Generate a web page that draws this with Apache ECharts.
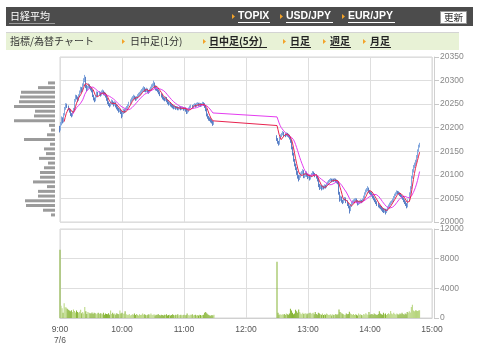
<!DOCTYPE html>
<html><head><meta charset="utf-8">
<script src="https://cdn.jsdelivr.net/npm/echarts@6.0.0/dist/echarts.min.js"></script>
<style>html,body{margin:0;padding:0;background:#fff}#c{width:480px;height:358px}</style>
</head><body><div id="c"></div>
<script>
const amStart = '9:00', pmStart = '12:30';
const amOpen = [
20200,20196,20208,20219,20213,20228,20241,20248,20245,20240,
20236,20229,20226,20233,20240,20258,20266,20264,20259,20268,
20276,20283,20279,20290,20301,20306,20288,20282,20285,20290,
20286,20283,20279,20268,20262,20258,20266,20273,20270,20274,
20270,20275,20277,20273,20272,20268,20261,20254,20250,20247,
20252,20256,20253,20249,20252,20247,20243,20240,20236,20238,
20233,20226,20232,20237,20235,20240,20242,20247,20252,20257,
20260,20263,20266,20264,20261,20263,20267,20270,20272,20275,
20278,20281,20284,20280,20279,20281,20277,20276,20280,20284,
20288,20290,20294,20287,20283,20282,20279,20275,20271,20268,
20264,20262,20260,20263,20258,20254,20251,20252,20249,20247,
20245,20243,20244,20241,20243,20240,20241,20243,20240,20242,
20242,20239,20241,20238,20233,20235,20240,20244,20246,20244,
20247,20249,20246,20250,20251,20248,20250,20247,20249,20252,
20250,20246,20239,20228,20223,20219,20218,20215,20213,20208];
const amClose = [
20196,20208,20220,20212,20228,20241,20248,20245,20240,20236,
20229,20226,20233,20239,20258,20266,20264,20259,20268,20276,
20283,20279,20290,20301,20306,20288,20282,20285,20290,20286,
20283,20279,20268,20262,20258,20266,20273,20270,20274,20270,
20275,20277,20273,20272,20268,20261,20254,20250,20247,20252,
20256,20253,20249,20252,20247,20243,20240,20236,20238,20233,
20226,20232,20237,20235,20240,20242,20247,20252,20257,20260,
20263,20266,20264,20261,20263,20267,20270,20272,20275,20278,
20281,20284,20280,20279,20281,20277,20276,20280,20284,20288,
20290,20294,20287,20283,20282,20279,20275,20271,20268,20264,
20262,20260,20263,20258,20254,20251,20252,20249,20247,20245,
20243,20244,20241,20243,20240,20241,20243,20240,20242,20242,
20239,20241,20238,20233,20235,20240,20244,20246,20244,20247,
20249,20246,20250,20251,20248,20250,20247,20249,20252,20250,
20246,20239,20228,20223,20219,20218,20215,20213,20208,20211];
const amLow = [
20190,20194,20205,20209,20211,20226,20238,20242,20237,20232,
20225,20222,20224,20231,20238,20255,20260,20255,20257,20265,
20273,20275,20277,20288,20297,20284,20278,20279,20283,20282,
20279,20275,20265,20258,20254,20256,20264,20266,20268,20266,
20268,20272,20269,20268,20264,20257,20250,20246,20243,20245,
20249,20249,20245,20247,20243,20239,20236,20232,20233,20229,
20220,20223,20229,20231,20233,20237,20240,20245,20250,20254,
20257,20261,20260,20257,20258,20261,20264,20267,20269,20272,
20275,20278,20276,20275,20276,20273,20272,20274,20278,20282,
20285,20287,20283,20279,20278,20275,20271,20267,20264,20260,
20258,20256,20257,20254,20250,20247,20248,20245,20243,20241,
20239,20240,20238,20239,20237,20237,20239,20237,20238,20239,
20236,20237,20234,20229,20230,20233,20238,20242,20241,20242,
20245,20243,20244,20247,20245,20246,20244,20245,20247,20246,
20242,20235,20224,20219,20215,20214,20211,20209,20204,20206];
const amHigh = [
20204,20212,20224,20222,20231,20244,20252,20251,20247,20242,
20238,20231,20236,20242,20261,20270,20269,20266,20271,20279,
20287,20286,20294,20305,20312,20308,20291,20289,20294,20292,
20288,20285,20281,20270,20264,20269,20277,20276,20278,20276,
20279,20281,20279,20276,20274,20270,20263,20256,20252,20255,
20260,20258,20255,20256,20254,20249,20245,20242,20241,20240,
20235,20235,20240,20239,20243,20246,20250,20255,20260,20264,
20267,20270,20268,20266,20267,20271,20274,20276,20279,20282,
20285,20288,20286,20283,20285,20283,20280,20283,20287,20292,
20294,20300,20296,20289,20286,20284,20281,20277,20273,20270,
20266,20264,20266,20265,20260,20256,20255,20254,20251,20249,
20247,20247,20246,20246,20245,20244,20246,20245,20245,20245,
20244,20244,20243,20240,20238,20243,20247,20249,20248,20250,
20252,20251,20253,20254,20253,20253,20252,20252,20255,20254,
20252,20248,20241,20230,20225,20222,20220,20218,20215,20214];
const amVol = [
9200,1650,1300,700,2000,1450,1400,1250,1100,1000,
900,1050,800,1150,950,750,1000,800,700,850,
1100,650,800,600,1500,900,550,800,700,650,
600,750,550,700,650,500,600,700,550,650,
600,500,700,450,600,550,500,650,450,1000,
550,700,500,600,450,650,550,500,1000,600,
700,550,600,900,500,450,400,550,350,400,
500,450,600,400,550,450,350,500,400,450,
600,450,500,400,350,450,500,400,600,450,
400,500,350,450,400,550,400,350,450,400,
350,450,400,500,350,400,450,350,400,500,
400,350,450,400,500,350,400,450,350,400,
450,350,400,600,400,350,450,400,500,350,
400,450,350,400,350,450,400,350,400,450,
700,800,650,500,400,350,300,400,350,450];
const pmOpen = [
20182,20176,20170,20166,20178,20183,20186,20189,20186,20184,
20187,20185,20183,20179,20172,20158,20145,20132,20122,20114,
20106,20098,20092,20097,20101,20104,20108,20097,20099,20104,
20100,20096,20098,20092,20097,20101,20104,20102,20099,20096,
20090,20079,20073,20076,20071,20075,20073,20077,20075,20080,
20083,20086,20088,20090,20087,20089,20088,20090,20088,20086,
20084,20062,20048,20052,20045,20042,20047,20050,20044,20038,
20033,20026,20035,20040,20043,20045,20047,20048,20044,20039,
20041,20043,20045,20044,20047,20053,20060,20065,20068,20071,
20066,20063,20061,20058,20054,20050,20046,20042,20038,20035,
20033,20031,20028,20025,20023,20026,20022,20025,20030,20034,
20038,20041,20043,20047,20052,20057,20060,20064,20062,20061,
20058,20056,20053,20050,20046,20042,20038,20033,20045,20060,
20072,20095,20108,20117,20122,20128,20138,20150,20160];
const pmClose = [
20176,20170,20166,20178,20183,20186,20189,20186,20184,20187,
20185,20183,20179,20172,20158,20145,20132,20122,20114,20106,
20098,20092,20097,20101,20104,20108,20097,20099,20104,20100,
20096,20098,20092,20097,20101,20104,20102,20099,20096,20090,
20079,20073,20076,20071,20075,20073,20077,20075,20080,20083,
20086,20088,20090,20087,20089,20088,20090,20088,20086,20084,
20062,20048,20052,20045,20042,20047,20050,20044,20038,20033,
20026,20035,20040,20043,20045,20047,20048,20044,20039,20041,
20043,20045,20044,20047,20053,20060,20065,20068,20071,20066,
20063,20061,20058,20054,20050,20046,20042,20038,20035,20033,
20031,20028,20025,20023,20026,20022,20025,20030,20034,20038,
20041,20043,20047,20052,20057,20060,20064,20062,20061,20058,
20056,20053,20050,20046,20042,20038,20033,20045,20060,20072,
20095,20108,20117,20122,20128,20138,20150,20160,20164];
const pmLow = [
20172,20166,20162,20164,20176,20180,20184,20182,20180,20182,
20181,20179,20175,20168,20154,20141,20128,20118,20110,20100,
20092,20086,20089,20094,20098,20101,20093,20093,20096,20096,
20091,20093,20088,20090,20095,20099,20098,20095,20092,20086,
20074,20068,20070,20067,20069,20069,20071,20071,20073,20078,
20081,20084,20086,20084,20085,20085,20086,20085,20082,20080,
20058,20043,20045,20041,20038,20040,20045,20040,20034,20029,
20018,20023,20032,20037,20040,20042,20044,20040,20035,20036,
20038,20040,20040,20042,20045,20051,20058,20063,20065,20062,
20059,20057,20054,20050,20046,20042,20038,20034,20031,20029,
20027,20024,20021,20019,20020,20016,20019,20023,20028,20032,
20036,20039,20041,20045,20050,20055,20058,20059,20058,20055,
20053,20050,20047,20042,20038,20034,20029,20031,20043,20058,
20070,20092,20105,20114,20119,20126,20136,20148,20158];
const pmHigh = [
20184,20178,20172,20181,20186,20189,20193,20191,20188,20190,
20189,20187,20185,20181,20174,20160,20147,20134,20124,20116,
20108,20100,20100,20105,20108,20112,20110,20103,20108,20107,
20102,20101,20100,20100,20104,20108,20107,20104,20101,20098,
20092,20081,20079,20078,20078,20077,20080,20079,20083,20086,
20089,20091,20093,20092,20092,20092,20093,20092,20090,20088,
20086,20064,20056,20054,20047,20050,20053,20052,20046,20040,
20035,20038,20043,20046,20048,20050,20051,20050,20046,20044,
20046,20048,20047,20050,20056,20063,20069,20072,20076,20073,
20068,20065,20063,20060,20056,20052,20048,20044,20040,20037,
20035,20033,20030,20028,20029,20028,20028,20033,20037,20041,
20044,20046,20050,20055,20060,20063,20067,20066,20065,20063,
20060,20058,20055,20052,20048,20044,20040,20048,20063,20076,
20098,20112,20121,20126,20132,20142,20154,20164,20168];
const pmVol = [
7600,700,450,500,400,500,450,550,400,600,
500,450,600,1250,1000,700,500,600,1100,900,
700,1150,800,600,500,700,550,600,650,500,
600,650,700,550,650,700,500,800,550,450,
700,600,500,450,600,400,500,450,600,500,
400,450,500,350,500,400,450,550,400,500,
1150,800,700,600,500,450,400,600,500,550,
850,600,500,450,550,400,500,450,350,600,
450,500,400,350,550,450,650,500,400,800,
450,500,550,400,600,500,450,400,550,900,
600,500,450,700,500,600,400,550,650,500,
950,600,500,700,550,450,600,500,450,600,
500,700,550,450,600,500,800,700,900,750,
1500,1800,1000,900,1050,1000,950,1000,1050];
const tickLabels = ['9:00\n7/6','10:00','11:00','12:00','13:00','14:00','15:00'];
const profileBins = [20005,20015,20025,20035,20045,20055,20065,20075,20085,20095,
  20105,20115,20125,20135,20145,20155,20165,20175,20185,20195,
  20205,20215,20225,20235,20245,20255,20265,20275,20285,20295,
  20305,20315,20325,20335,20345];
const profileVol = [0,4,12,29,30,17,17,8,22,15,15,11,7,16,9,11,5,31,8,4,6,41,21,20,41,36,35,34,17,7,0,0,0,0,0];

const N = 361;
const cats = [];
for (let i = 0; i < N; i++) { const h = 9 + Math.floor(i / 60), m = i % 60; cats.push(h + ':' + String(m).padStart(2, '0')); }
const candles = [], vols = [], seq = [];
for (let i = 0; i < N; i++) { candles.push(['-','-','-','-']); vols.push('-'); }
function addSession(start, o, c, l, h, v) {
  const s = cats.indexOf(start);
  for (let k = 0; k < c.length; k++) {
    const i = s + k;
    candles[i] = [o[k], c[k], l[k], h[k]];
    vols[i] = { value: v[k], itemStyle: { color: c[k] >= o[k] ? '#b6d57c' : '#86b435' } };
    seq.push([i, c[k]]);
  }
}
addSession(amStart, amOpen, amClose, amLow, amHigh, amVol);
addSession(pmStart, pmOpen, pmClose, pmLow, pmHigh, pmVol);
function ma(n) {
  const out = new Array(N).fill('-');
  for (let j = n - 1; j < seq.length; j++) {
    let s = 0; for (let t = j - n + 1; t <= j; t++) s += seq[t][1];
    out[seq[j][0]] = +(s / n).toFixed(2);
  }
  return out;
}
const maShort = ma(5), maLong = ma(13);

const hourTick = (i) => i % 60 === 0;
const gridColor = '#dedede';
const numFont = 'Liberation Sans';
const jp = '"Noto Sans CJK JP"';

function tri(x, y) { return { type: 'polygon', shape: { points: [[x, y - 2.5], [x + 3, y], [x, y + 2.5]] }, style: { fill: '#f3a329' } }; }
function txt(x, y, t, font, fill) { return { type: 'text', x: x, y: y, style: { text: t, font: font, fill: fill, align: 'left', verticalAlign: 'middle', textAlign: 'left', textVerticalAlign: 'middle' } }; }
function uline(x1, x2, y, c) { return { type: 'line', shape: { x1: x1, y1: y, x2: x2, y2: y }, style: { stroke: c, lineWidth: 1 } }; }

const chart = echarts.init(document.getElementById('c'), null, { renderer: 'canvas' });
chart.setOption({
  animation: false,
  backgroundColor: '#fff',
  graphic: [
    { type: 'rect', shape: { x: 6, y: 7, width: 467, height: 19 }, style: { fill: '#4c4c4c' } },
    txt(10, 16.5, '日経平均', '10px ' + jp, '#fff'),
    uline(9, 55, 23.5, '#9a9a9a'),
    tri(232, 16.5), txt(238, 16.5, 'TOPIX', 'bold 10.5px ' + numFont, '#fff'), uline(238, 270, 22.5, '#fff'),
    tri(280, 16.5), txt(286, 16.5, 'USD/JPY', 'bold 10.5px ' + numFont, '#fff'), uline(286, 333, 22.5, '#fff'),
    tri(342, 16.5), txt(348, 16.5, 'EUR/JPY', 'bold 10.5px ' + numFont, '#fff'), uline(348, 395, 22.5, '#fff'),
    { type: 'rect', shape: { x: 440.5, y: 11.5, width: 26, height: 12 }, style: { fill: '#fff', stroke: '#999' } },
    { type: 'text', x: 453.5, y: 17.5, style: { text: '更新', font: '9.5px ' + jp, fill: '#222', align: 'center', verticalAlign: 'middle', textAlign: 'center', textVerticalAlign: 'middle' } },
    { type: 'rect', shape: { x: 6, y: 33, width: 453, height: 17 }, style: { fill: '#e8f2d6' } },
    uline(6, 459, 32.5, '#d4d4d4'),
    txt(10, 41.5, '指標/為替チャート', '10px ' + jp, '#333'),
    tri(122, 41.5), txt(130, 41.5, '日中足(1分)', '10px ' + jp, '#333'),
    tri(203, 41.5), txt(209, 41.5, '日中足(5分)', 'bold 10px ' + jp, '#222'), uline(209, 267, 47.5, '#222'),
    tri(283, 41.5), txt(290, 41.5, '日足', 'bold 10px ' + jp, '#222'), uline(290, 311, 47.5, '#222'),
    tri(323, 41.5), txt(330, 41.5, '週足', 'bold 10px ' + jp, '#222'), uline(330, 351, 47.5, '#222'),
    tri(363, 41.5), txt(370, 41.5, '月足', 'bold 10px ' + jp, '#222'), uline(370, 391, 47.5, '#222')
  ],
  grid: [
    { left: 60, right: 48, top: 57, height: 165, show: true, borderColor: '#d6d6d6', borderWidth: 1 },
    { left: 60, right: 48, top: 229, height: 89, show: true, borderColor: '#d6d6d6', borderWidth: 1 },
    { left: 13, right: 425, top: 57, height: 165 }
  ],
  xAxis: [
    { type: 'category', gridIndex: 0, data: cats, boundaryGap: false,
      axisLine: { show: false }, axisTick: { show: false }, axisLabel: { show: false },
      splitLine: { show: true, interval: hourTick, lineStyle: { color: gridColor } } },
    { type: 'category', gridIndex: 1, data: cats, boundaryGap: false,
      axisLine: { show: true, lineStyle: { color: '#d0d0d0' } }, axisTick: { show: false },
      axisLabel: { show: true, interval: hourTick, formatter: (v, i) => tickLabels[i / 60], color: '#555', fontSize: 8.5, fontFamily: numFont, lineHeight: 11, margin: 6 },
      splitLine: { show: true, interval: hourTick, lineStyle: { color: gridColor } } },
    { type: 'value', gridIndex: 2, min: 0, max: 42, inverse: true, show: false }
  ],
  yAxis: [
    { type: 'value', gridIndex: 0, position: 'right', min: 20000, max: 20350, interval: 50, offset: 2,
      axisLine: { show: true, lineStyle: { color: '#d0d0d0' } }, axisTick: { show: true, length: 5, lineStyle: { color: '#c8c8c8' } },
      axisLabel: { color: '#888', fontSize: 8.5, fontFamily: numFont, margin: 6, formatter: (v) => String(v) },
      splitLine: { show: true, lineStyle: { color: gridColor } } },
    { type: 'value', gridIndex: 1, position: 'right', min: 0, max: 12000, interval: 4000, offset: 2,
      axisLine: { show: true, lineStyle: { color: '#d0d0d0' } }, axisTick: { show: true, length: 5, lineStyle: { color: '#c8c8c8' } },
      axisLabel: { color: '#888', fontSize: 8.5, fontFamily: numFont, margin: 6, formatter: (v) => String(v) },
      splitLine: { show: true, lineStyle: { color: gridColor } } },
    { type: 'category', gridIndex: 2, data: profileBins, show: false }
  ],
  series: [
    { type: 'candlestick', xAxisIndex: 0, yAxisIndex: 0, data: candles, barWidth: 1,
      itemStyle: { color: '#8fb3e2', color0: '#2a3a8e', borderColor: '#86aadf', borderColor0: '#5b80c6', borderWidth: 1 } },
    { type: 'line', xAxisIndex: 0, yAxisIndex: 0, data: maLong, connectNulls: true, symbol: 'none',
      lineStyle: { color: '#e43cf0', width: 1 }, z: 3 },
    { type: 'line', xAxisIndex: 0, yAxisIndex: 0, data: maShort, connectNulls: true, symbol: 'none',
      lineStyle: { color: '#e8234f', width: 1 }, z: 4 },
    { type: 'bar', xAxisIndex: 1, yAxisIndex: 1, data: vols, barWidth: 1 },
    { type: 'bar', xAxisIndex: 2, yAxisIndex: 2, data: profileVol, barWidth: 3, itemStyle: { color: '#9b9b9b' } }
  ]
});
</script></body></html>
